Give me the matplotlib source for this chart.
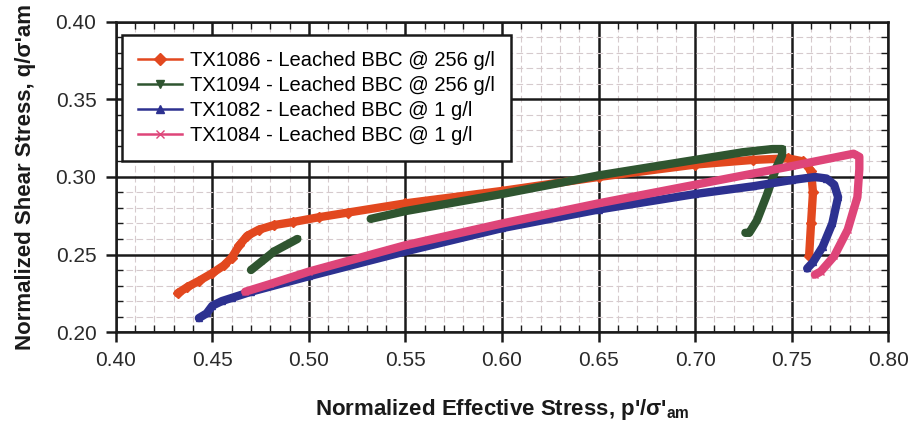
import numpy as np
import matplotlib
matplotlib.use("Agg")
import matplotlib.pyplot as plt
from matplotlib.lines import Line2D
from matplotlib.ticker import MultipleLocator

plt.rcParams['font.family'] = ['Liberation Sans', 'DejaVu Sans']
plt.rcParams['mathtext.fontset'] = 'custom'
plt.rcParams['mathtext.rm'] = 'Liberation Sans'
plt.rcParams['mathtext.bf'] = 'Liberation Sans:bold'

# Stress paths (p'/sigma'am, q/sigma'am)
tx1086_p = [0.432, 0.437, 0.443, 0.450, 0.456, 0.460, 0.464, 0.468, 0.474, 0.482,
            0.492, 0.505, 0.520, 0.550, 0.600, 0.650, 0.700, 0.730, 0.748, 0.756,
            0.760, 0.761, 0.760, 0.759]
tx1086_q = [0.225, 0.229, 0.233, 0.238, 0.243, 0.248, 0.256, 0.262, 0.266, 0.269,
            0.271, 0.274, 0.277, 0.283, 0.291, 0.300, 0.308, 0.311, 0.312, 0.310,
            0.304, 0.290, 0.270, 0.249]

tx1094_p = [0.470, 0.476, 0.482, 0.488, 0.494, np.nan,
            0.532, 0.550, 0.600, 0.650, 0.700, 0.725, 0.740, 0.745, 0.745, 0.742,
            0.737, 0.732, 0.728, 0.726]
tx1094_q = [0.240, 0.246, 0.252, 0.256, 0.260, np.nan,
            0.273, 0.278, 0.289, 0.301, 0.311, 0.316, 0.318, 0.318, 0.314, 0.306,
            0.288, 0.272, 0.264, 0.264]

tx1082_p = [0.443, 0.447, 0.450, 0.455, 0.460, 0.470, 0.500, 0.550, 0.600, 0.650,
            0.700, 0.730, 0.750, 0.762, 0.768, 0.772, 0.774, 0.771, 0.766, 0.761,
            0.758]
tx1082_q = [0.209, 0.212, 0.217, 0.220, 0.222, 0.226, 0.236, 0.252, 0.267, 0.279,
            0.289, 0.294, 0.298, 0.300, 0.299, 0.295, 0.287, 0.270, 0.255, 0.245,
            0.241]

tx1084_p = [0.467, 0.480, 0.500, 0.550, 0.600, 0.650, 0.700, 0.750, 0.770, 0.782,
            0.785, 0.785, 0.784, 0.779, 0.772, 0.765, 0.762]
tx1084_q = [0.226, 0.231, 0.239, 0.256, 0.270, 0.283, 0.295, 0.307, 0.312, 0.315,
            0.313, 0.305, 0.287, 0.266, 0.249, 0.239, 0.237]

labels = ["TX1086 - Leached BBC @ 256 g/l",
          "TX1094 - Leached BBC @ 256 g/l",
          "TX1082 - Leached BBC @ 1 g/l",
          "TX1084 - Leached BBC @ 1 g/l"]
colors = ["#E2481F", "#2F5530", "#2D3190", "#DE4579"]
markers = ["D", "v", "^", "x"]

x_ticks = [0.40, 0.45, 0.50, 0.55, 0.60, 0.65, 0.70, 0.75, 0.80]
y_ticks = [0.20, 0.25, 0.30, 0.35, 0.40]

fig = plt.figure(figsize=(9.12, 4.29), dpi=100)
ax = fig.add_axes([0.127, 0.226, 0.847, 0.723])

series = [(tx1086_p, tx1086_q), (tx1094_p, tx1094_q),
          (tx1082_p, tx1082_q), (tx1084_p, tx1084_q)]
for (p, q), c, m in zip(series, colors, markers):
    ax.plot(p, q, color=c, lw=6, solid_capstyle='round',
            solid_joinstyle='round', marker=m, ms=5, mfc=c, mec=c, zorder=3)

ax.set_xlim(0.40, 0.80)
ax.set_ylim(0.20, 0.40)
ax.set_xticks(x_ticks)
ax.set_yticks(y_ticks)
ax.set_xticklabels([f"{v:.2f}" for v in x_ticks])
ax.set_yticklabels([f"{v:.2f}" for v in y_ticks])
ax.xaxis.set_minor_locator(MultipleLocator(0.01))
ax.yaxis.set_minor_locator(MultipleLocator(0.01))

ax.grid(which='major', color='#1a1a1a', lw=1.8, zorder=1)
ax.grid(which='minor', color='#d6cacd', lw=0.8, ls=(0, (6, 3)), zorder=0)

ax.tick_params(which='major', direction='out', length=7, width=1.8,
               labelsize=15, pad=7, colors='#1a1a1a', labelcolor='#2a2a2a')
ax.tick_params(which='minor', direction='in', length=5, width=1.0,
               top=True, right=True, colors='#1a1a1a')
for s in ax.spines.values():
    s.set_linewidth(1.8)
    s.set_color('#1a1a1a')

ax.set_xlabel(r"Normalized Effective Stress, p'/σ'$_{\mathbf{am}}$",
              fontsize=16, fontweight='bold', labelpad=19, color='#1a1a1a')
ax.set_ylabel("Normalized Shear Stress, q/σ'am",
              fontsize=16, fontweight='bold', labelpad=14, color='#1a1a1a')

handles = [Line2D([], [], color=c, lw=1.8, marker=m, ms=6, mfc=c, mec=c)
           for c, m in zip(colors, markers)]
leg = ax.legend(handles, labels, loc='upper left', bbox_to_anchor=(0.008, 0.958),
                borderaxespad=0, fontsize=14.5, frameon=True, fancybox=False,
                framealpha=1, edgecolor='#1a1a1a', handlelength=2.2,
                labelspacing=0.3, borderpad=0.8, handletextpad=0.4)
leg.get_frame().set_linewidth(1.8)
leg.set_zorder(5)

fig.savefig("out.png", dpi=100)
